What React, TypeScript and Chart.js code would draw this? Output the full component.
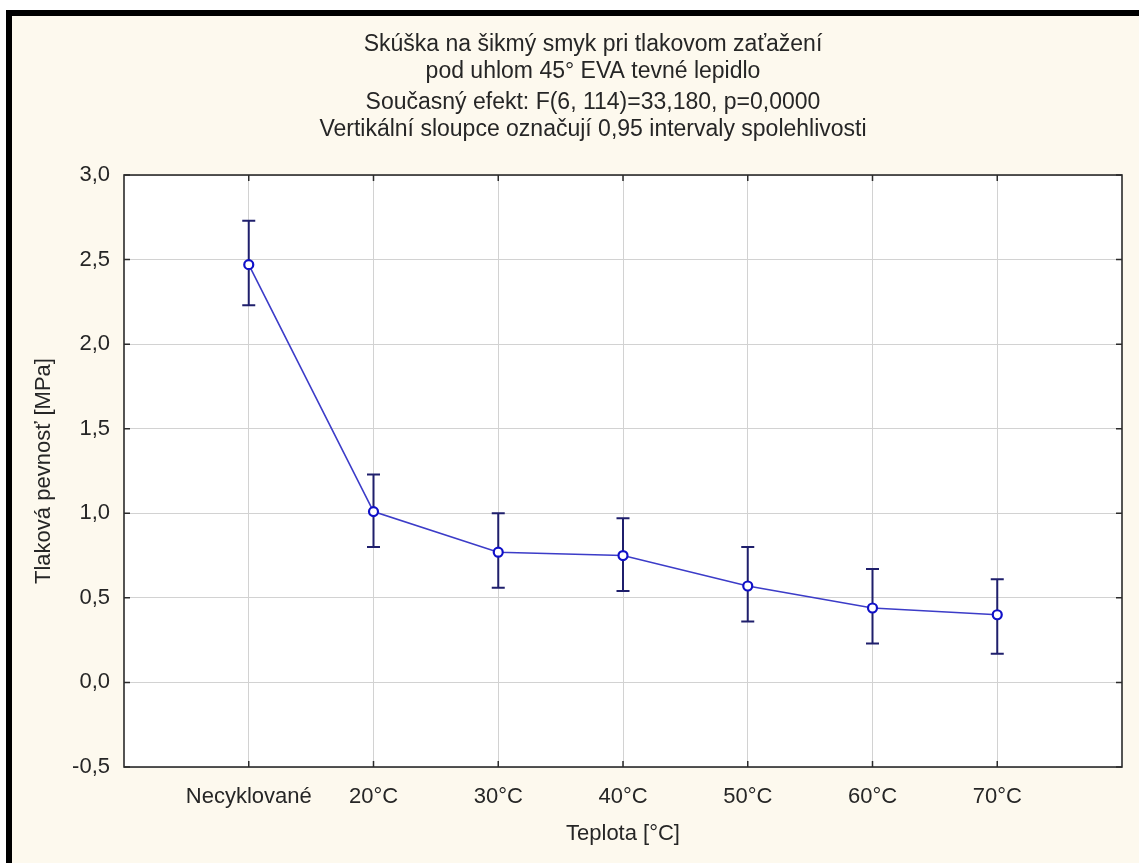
import React, { useEffect, useRef } from "react";
import { Chart, registerables } from "chart.js";

Chart.register(...registerables);

const categories = ["Necyklované", "20°C", "30°C", "40°C", "50°C", "60°C", "70°C"];
const means = [2.47, 1.01, 0.77, 0.75, 0.57, 0.44, 0.4];
const upper = [2.73, 1.23, 1.0, 0.97, 0.8, 0.67, 0.61];
const lower = [2.23, 0.8, 0.56, 0.54, 0.36, 0.23, 0.17];
const yMin = -0.5;
const yMax = 3.0;
const yStep = 0.5;

const titleLines = ["Skúška na šikmý smyk pri tlakovom zaťažení", "pod uhlom 45° EVA tevné lepidlo"];
const subtitleLines = [
  "Současný efekt: F(6, 114)=33,180, p=0,0000",
  "Vertikální sloupce označují 0,95 intervaly spolehlivosti",
];
const xTitle = "Teplota [°C]";
const yTitle = "Tlaková pevnosť [MPa]";

const FONT = "'Liberation Sans', Arial, sans-serif";
const TEXT = "#262626";

const decor = {
  id: "decor",
  beforeDraw(chart: any) {
    const { ctx, chartArea: a } = chart;
    ctx.save();
    ctx.fillStyle = "#ffffff";
    ctx.fillRect(a.left, a.top, a.right - a.left, a.bottom - a.top);
    ctx.restore();
  },
  beforeDatasetsDraw(chart: any) {
    const { ctx, scales } = chart;
    const xs = scales.x;
    const ys = scales.y;
    ctx.save();
    ctx.strokeStyle = "#1f1f6c";
    ctx.lineWidth = 2;
    const cap = 6.5;
    for (let i = 0; i < means.length; i++) {
      const x = xs.getPixelForValue(i + 1);
      const yt = ys.getPixelForValue(upper[i]);
      const yb = ys.getPixelForValue(lower[i]);
      ctx.beginPath();
      ctx.moveTo(x, yt);
      ctx.lineTo(x, yb);
      ctx.moveTo(x - cap, yt);
      ctx.lineTo(x + cap, yt);
      ctx.moveTo(x - cap, yb);
      ctx.lineTo(x + cap, yb);
      ctx.stroke();
    }
    ctx.restore();
  },
  afterDraw(chart: any) {
    const { ctx, chartArea: a, scales } = chart;
    ctx.save();
    ctx.strokeStyle = "#2b2b2b";
    ctx.lineWidth = 1.6;
    ctx.strokeRect(a.left, a.top, a.right - a.left, a.bottom - a.top);
    ctx.lineWidth = 1.5;
    const tl = 6;
    ctx.beginPath();
    for (let i = 0; i < categories.length; i++) {
      const x = scales.x.getPixelForValue(i + 1);
      ctx.moveTo(x, a.bottom);
      ctx.lineTo(x, a.bottom - tl);
      ctx.moveTo(x, a.top);
      ctx.lineTo(x, a.top + tl);
    }
    scales.y.ticks.forEach((t: any) => {
      const y = scales.y.getPixelForValue(t.value);
      ctx.moveTo(a.left, y);
      ctx.lineTo(a.left + tl, y);
      ctx.moveTo(a.right, y);
      ctx.lineTo(a.right - tl, y);
    });
    ctx.stroke();
    ctx.restore();
  },
};

export default function App() {
  const ref = useRef<HTMLCanvasElement | null>(null);

  useEffect(() => {
    if (!ref.current) return;
    const chart = new Chart(ref.current, {
      type: "line",
      data: {
        datasets: [
          {
            data: means.map((v, i) => ({ x: i + 1, y: v })),
            borderColor: "#3c3cc8",
            borderWidth: 1.6,
            pointRadius: 4.5,
            pointBorderWidth: 2.2,
            pointBorderColor: "#1010c8",
            pointBackgroundColor: "#ffffff",
            tension: 0,
            fill: false,
          },
        ],
      },
      options: {
        responsive: false,
        animation: false,
        events: [],
        layout: { padding: { left: 52, right: 17, top: 0, bottom: 0 } },
        plugins: {
          legend: { display: false },
          tooltip: { enabled: false },
          title: {
            display: true,
            text: titleLines,
            color: TEXT,
            font: { family: FONT, size: 23, weight: "normal", lineHeight: 1.174 },
            padding: { top: 15.5, bottom: 4 },
          },
          subtitle: {
            display: true,
            text: subtitleLines,
            color: TEXT,
            font: { family: FONT, size: 23, weight: "normal", lineHeight: 1.174 },
            padding: { top: 0, bottom: 31.5 },
          },
        },
        scales: {
          x: {
            type: "linear",
            min: 0,
            max: categories.length + 1,
            afterFit: (s: any) => {
              s.height = 96;
            },
            ticks: {
              stepSize: 1,
              autoSkip: false,
              maxRotation: 0,
              padding: 17,
              color: TEXT,
              font: { family: FONT, size: 22 },
              callback: (v: any) => {
                const n = Number(v);
                return Number.isInteger(n) && n >= 1 && n <= categories.length ? categories[n - 1] : "";
              },
            },
            grid: {
              drawTicks: false,
              color: (c: any) =>
                c.tick && c.tick.value >= 1 && c.tick.value <= categories.length ? "#d2d2d2" : "rgba(0,0,0,0)",
              lineWidth: 1,
            },
            border: { display: false },
            title: {
              display: true,
              text: xTitle,
              color: TEXT,
              font: { family: FONT, size: 22 },
              padding: { top: 9, bottom: 16 },
            },
          },
          y: {
            type: "linear",
            min: yMin,
            max: yMax,
            afterFit: (s: any) => {
              s.width = 60;
            },
            ticks: {
              stepSize: yStep,
              padding: 14,
              color: TEXT,
              font: { family: FONT, size: 22 },
              callback: (v: any) => Number(v).toFixed(1).replace(".", ","),
            },
            grid: { drawTicks: false, color: "#d2d2d2", lineWidth: 1 },
            border: { display: false },
            title: {
              display: true,
              text: yTitle,
              color: TEXT,
              font: { family: FONT, size: 22 },
              padding: { top: -33.2, bottom: 0 },
            },
          },
        },
      },
      plugins: [decor],
    } as any);
    return () => chart.destroy();
  }, []);

  return (
    <div
      style={{
        position: "absolute",
        left: 6,
        top: 10,
        width: 1133,
        height: 853,
        boxSizing: "border-box",
        borderTop: "6px solid #000",
        borderLeft: "6px solid #000",
        background: "#fdf9ee",
      }}
    >
      <canvas ref={ref} width={1127} height={847} style={{ display: "block", width: 1127, height: 847 }} />
    </div>
  );
}
